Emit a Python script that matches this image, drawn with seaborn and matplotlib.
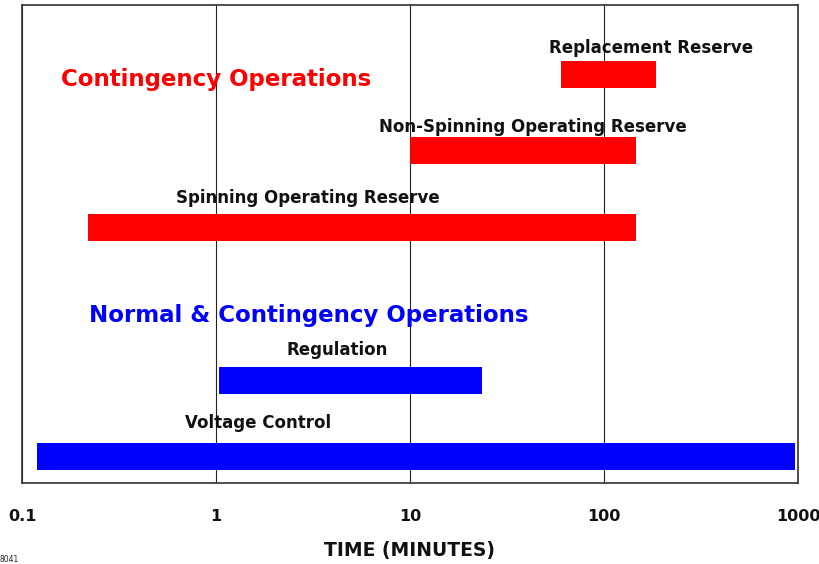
import matplotlib
matplotlib.use("Agg")
import matplotlib.pyplot as plt
from matplotlib.ticker import NullLocator
import seaborn as sns
import pandas as pd

# ---- data ----
services = ["Replacement Reserve", "Non-Spinning Operating Reserve",
            "Spinning Operating Reserve", "Regulation", "Voltage Control"]
start_min = [60, 10, 0.22, 1.04, 0.12]
end_min = [185, 147, 147, 23.5, 970]
group = ["Contingency", "Contingency", "Contingency", "Normal", "Normal"]
group_titles = ["Contingency Operations", "Normal & Contingency Operations"]
tick_values = [0.1, 1, 10, 100, 1000]
tick_labels = ["0.1", "1", "10", "100", "1000"]

df = pd.DataFrame({"service": services, "start": start_min,
                   "end": end_min, "group": group})

sns.set_theme(style="white")
plt.rcParams["font.family"] = ["DejaVu Sans"]

fig = plt.figure(figsize=(8.2, 5.64), dpi=100)
ax = fig.add_axes([22 / 820, 1 - 483 / 564, 776 / 820, 478 / 564])

rows = services[:3] + [" "] + services[3:]
palette = {"Contingency": "#ff0000", "Normal": "#0000ff"}

sns.barplot(data=df, x="end", y="service", order=rows, hue="group",
            palette=palette, dodge=False, legend=False, width=0.355,
            saturation=1, orient="h", linewidth=0, ax=ax, zorder=3)

lookup = df.set_index("service")
for p in ax.patches:
    idx = int(round(p.get_y() + p.get_height() / 2))
    name = rows[idx]
    if name in lookup.index:
        s, e = lookup.loc[name, "start"], lookup.loc[name, "end"]
        p.set_x(s)
        p.set_width(e - s)

ax.set_xscale("log")
ax.set_xlim(0.1, 1000)
ax.set_ylim(5.347, -0.91)

ax.set_xticks(tick_values)
ax.set_xticklabels(tick_labels, fontsize=11.5, fontweight="bold")
ax.xaxis.set_minor_locator(NullLocator())
ax.tick_params(axis="x", length=0, pad=19, labelcolor="#111111")
ax.set_yticks([])
ax.set_ylabel("")
ax.xaxis.grid(True, color="#222222", linewidth=0.8, zorder=1)
ax.set_axisbelow(True)
for sp in ax.spines.values():
    sp.set_visible(True)
    sp.set_color("#333333")
    sp.set_linewidth(1.2)

ax.set_xlabel("TIME (MINUTES)", fontsize=13.5, fontweight="bold",
              labelpad=12, color="#111111")

# service labels above bars (layout: centre x, vertical offset from bar row)
label_x = [174, 42.8, 2.98, 4.19, 1.65]
label_dy = [-0.347, -0.313, -0.384, -0.395, -0.438]
for name, lx, dy in zip(services, label_x, label_dy):
    r = rows.index(name)
    ax.text(lx, r + dy, name, ha="center", va="center",
            fontsize=12, fontweight="bold", color="#111111", zorder=4)

# group titles
ax.text(1.0, 0.07, group_titles[0], ha="center", va="center",
        fontsize=16.5, fontweight="bold", color="#ff0000", zorder=4)
ax.text(2.99, 3.16, group_titles[1], ha="center", va="center",
        fontsize=16.5, fontweight="bold", color="#0000ff", zorder=4)

fig.text(0.0, 1 - 560 / 564, "8041", fontsize=5.5, va="center", ha="left")

fig.savefig("out.png", dpi=100)
